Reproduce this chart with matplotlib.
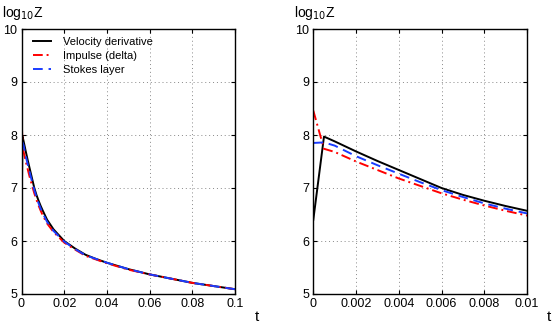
import numpy as np
import matplotlib; matplotlib.use("Agg")
import matplotlib.pyplot as plt

plt.rcParams['font.family'] = ['Liberation Sans', 'DejaVu Sans']

# time samples
t = [0, 0.0005, 0.001, 0.002, 0.003, 0.004, 0.005, 0.006, 0.007, 0.008, 0.009, 0.01,
     0.012, 0.015, 0.02, 0.025, 0.03, 0.035, 0.04, 0.05, 0.06, 0.07, 0.08, 0.09, 0.1]

# log10 Z
vel = [6.40, 7.97, 7.88, 7.69, 7.51, 7.34, 7.17, 7.00, 6.87, 6.76, 6.66, 6.57,
       6.40, 6.22, 6.00, 5.86, 5.74, 5.66, 5.59, 5.47, 5.37, 5.29, 5.21, 5.15, 5.09]
imp = [8.46, 7.74, 7.68, 7.50, 7.34, 7.18, 7.04, 6.90, 6.78, 6.67, 6.57, 6.48,
       6.33, 6.17, 5.97, 5.84, 5.72, 5.65, 5.58, 5.46, 5.37, 5.29, 5.21, 5.15, 5.09]
stokes = [7.85, 7.86, 7.80, 7.60, 7.43, 7.27, 7.11, 6.96, 6.83, 6.71, 6.61, 6.52,
          6.36, 6.19, 5.99, 5.85, 5.73, 5.66, 5.59, 5.47, 5.37, 5.29, 5.21, 5.15, 5.09]

xt_left = [0, 0.02, 0.04, 0.06, 0.08, 0.1]
xl_left = ["0", "0.02", "0.04", "0.06", "0.08", "0.1"]
xt_right = [0, 0.002, 0.004, 0.006, 0.008, 0.01]
xl_right = ["0", "0.002", "0.004", "0.006", "0.008", "0.01"]
yt = [5, 6, 7, 8, 9, 10]

W, H = 557, 327
fig = plt.figure(figsize=(W/100, H/100), dpi=100)
axL = fig.add_axes([21.5/W, (H-294)/H, (235-21.5)/W, (294-29)/H])
axR = fig.add_axes([313.3/W, (H-294)/H, (527-313.3)/W, (294-29)/H])

for ax, xt, xl, xmax, tx in [(axL, xt_left, xl_left, 0.1, 257), (axR, xt_right, xl_right, 0.01, 549)]:
    ax.plot(t, vel, color="black", lw=1.4, label="Velocity derivative")
    ax.plot(t, imp, color="red", lw=1.4, ls=(0, (5, 2, 1, 2)), label="Impulse (delta)")
    ax.plot(t, stokes, color="#1a3cff", lw=1.4, ls=(0, (5, 3)), label="Stokes layer")
    ax.set_xlim(0, xmax); ax.set_ylim(5, 10)
    ax.set_xticks(xt); ax.set_xticklabels(xl)
    ax.set_yticks(yt)
    ax.tick_params(direction="in", top=True, right=True, labelsize=9, length=3, pad=3)
    ax.grid(True, color="#888888", ls=(0, (1, 3)), lw=0.7)
    for s in ax.spines.values():
        s.set_linewidth(1.0)
    fig.text(tx/W, 1-317/H, "t", fontsize=11, ha="center", va="center")
    x0 = ax.get_position().x0
    fig.text(x0 - 19/W, 1-13/H, r"log$_{10}$Z", fontsize=10, ha="left", va="center")

axL.legend(loc="upper left", frameon=False, fontsize=8, handlelength=1.6,
           borderaxespad=0.3, labelspacing=0.35, handletextpad=1.05,
           bbox_to_anchor=(0.018, 1.0))

fig.savefig("out.png", dpi=100)
